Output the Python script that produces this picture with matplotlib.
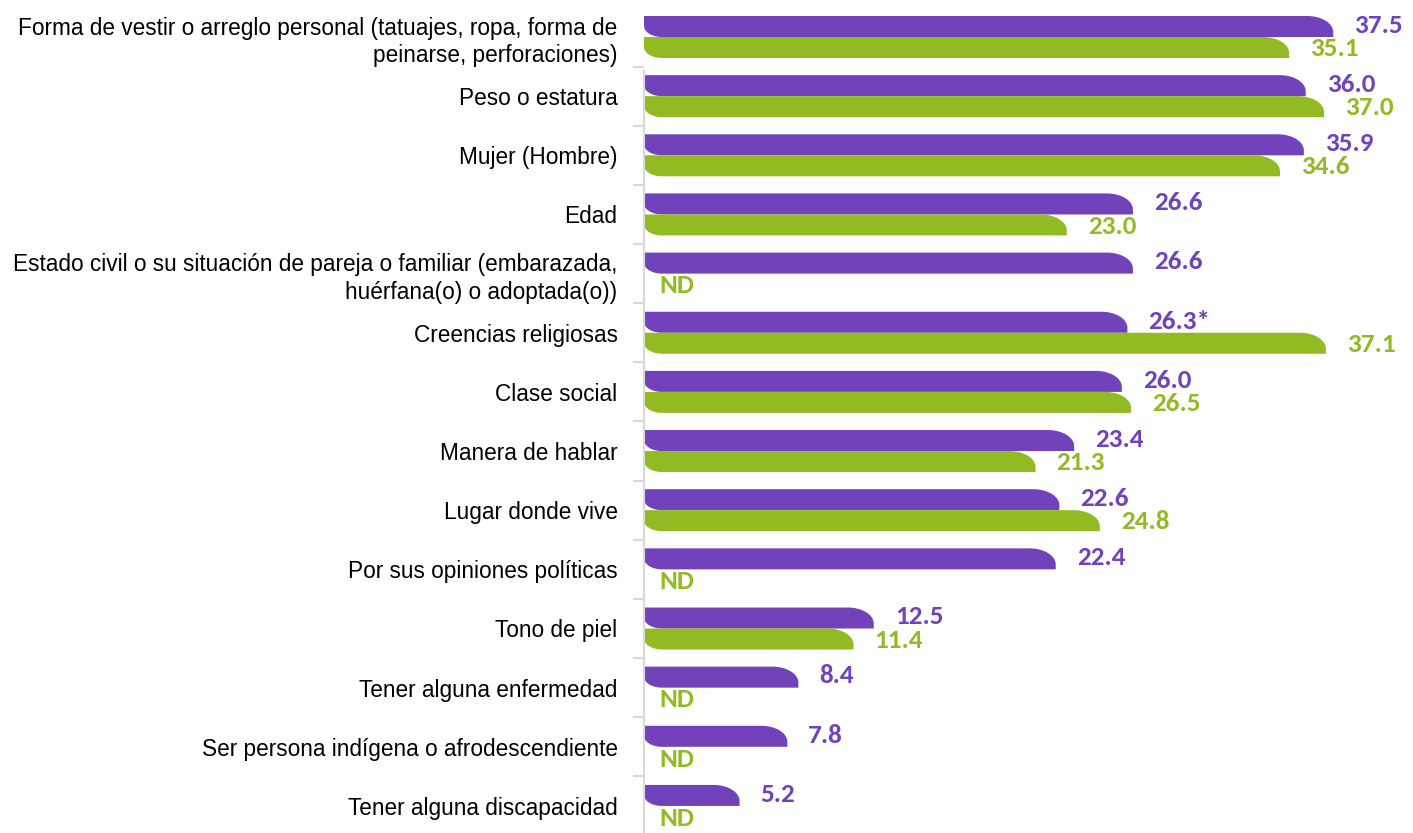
import matplotlib
matplotlib.use("Agg")
import matplotlib.pyplot as plt
from matplotlib import font_manager
from matplotlib.path import Path
from matplotlib.patches import PathPatch
import numpy as np

categories = [
    "Forma de vestir o arreglo personal (tatuajes, ropa, forma de\npeinarse, perforaciones)",
    "Peso o estatura",
    "Mujer (Hombre)",
    "Edad",
    "Estado civil o su situación de pareja o familiar (embarazada,\nhuérfana(o) o adoptada(o))",
    "Creencias religiosas",
    "Clase social",
    "Manera de hablar",
    "Lugar donde vive",
    "Por sus opiniones políticas",
    "Tono de piel",
    "Tener alguna enfermedad",
    "Ser persona indígena o afrodescendiente",
    "Tener alguna discapacidad",
]
series_a = [37.5, 36.0, 35.9, 26.6, 26.6, 26.3, 26.0, 23.4, 22.6, 22.4, 12.5, 8.4, 7.8, 5.2]
series_b = [35.1, 37.0, 34.6, 23.0, None, 37.1, 26.5, 21.3, 24.8, None, 11.4, None, None, None]
labels_a = ["37.5", "36.0", "35.9", "26.6", "26.6", "26.3*", "26.0", "23.4", "22.6",
            "22.4", "12.5", "8.4", "7.8", "5.2"]

PURPLE = "#7142B9"
GREEN = "#92BA22"

names = {f.name for f in font_manager.fontManager.ttflist}
label_font = next((f for f in ["Liberation Sans Narrow", "Arial Narrow", "Liberation Sans"] if f in names), "DejaVu Sans")
value_font = next((f for f in ["Carlito", "Lato", "Open Sans"] if f in names), "DejaVu Sans")

W, H, DPI = 1413, 833, 100
fig = plt.figure(figsize=(W / DPI, H / DPI), dpi=DPI)
ax = fig.add_axes([644 / W, 0, 1 - 644 / W, 1])

px_per_unit_x = 18.38
row_px = 59.15
n = len(categories)
ax.set_xlim(0, (W - 644) / px_per_unit_x)
ax.set_ylim((H - 37) / row_px, -37 / row_px)

pos = np.arange(n)
bar_h = 21 / row_px
off = bar_h / 2

vals_b = [v if v is not None else 0 for v in series_b]
bars_a = ax.barh(pos - off, series_a, height=bar_h, color=PURPLE)
bars_b = ax.barh(pos + off, vals_b, height=bar_h, color=GREEN)


def rounded_diagonal(rect, color):
    """Replace a rectangle with one whose top-right and bottom-left corners are rounded."""
    x0, w = rect.get_x(), rect.get_width()
    y0, h = rect.get_y(), rect.get_height()
    rect.set_visible(False)
    if w <= 0:
        return
    x1 = x0 + w
    rx1 = min(26 / px_per_unit_x, w / 2)
    ry1 = min(16 / row_px, h * 0.8)
    rx2 = min(18 / px_per_unit_x, w / 2)
    ry2 = min(11 / row_px, h * 0.6)
    k = 0.5523
    # y axis inverted: y0 is the visual top edge, y0+h the visual bottom edge
    top, bot = y0, y0 + h
    verts = [
        (x0, top),
        (x1 - rx1, top),
        (x1 - rx1 + k * rx1, top), (x1, top + ry1 - k * ry1), (x1, top + ry1),
        (x1, bot),
        (x0 + rx2, bot),
        (x0 + rx2 - k * rx2, bot), (x0, bot - ry2 + k * ry2), (x0, bot - ry2),
        (x0, top),
        (x0, top),
    ]
    codes = [Path.MOVETO, Path.LINETO,
             Path.CURVE4, Path.CURVE4, Path.CURVE4,
             Path.LINETO, Path.LINETO,
             Path.CURVE4, Path.CURVE4, Path.CURVE4,
             Path.LINETO, Path.CLOSEPOLY]
    ax.add_patch(PathPatch(Path(verts, codes), facecolor=color, edgecolor="none"))


for r in bars_a:
    rounded_diagonal(r, PURPLE)
for r in bars_b:
    rounded_diagonal(r, GREEN)

lab_dx = 21 / px_per_unit_x
nd_dx = 15 / px_per_unit_x
vfs = 19.5
for i in range(n):
    ax.text(series_a[i] + lab_dx, i - off - 0.02, labels_a[i], color=PURPLE, fontsize=vfs,
            fontweight="bold", family=value_font, ha="left", va="center")
    if series_b[i] is None:
        ax.text(nd_dx, i + off + 0.03, "ND", color=GREEN, fontsize=vfs,
                fontweight="bold", family=value_font, ha="left", va="center")
    else:
        ax.text(series_b[i] + lab_dx, i + off + 0.02, f"{series_b[i]:.1f}", color=GREEN, fontsize=vfs,
                fontweight="bold", family=value_font, ha="left", va="center")

# category separators on the left axis, labels at row centres
ax.set_yticks(np.arange(1, n) - 0.5)
ax.set_yticklabels([])
ax.tick_params(axis="y", which="major", length=8, width=1.5, color="#d9d9d9", direction="out")
ax.set_yticks(pos, minor=True)
ax.set_yticklabels(categories, minor=True, fontsize=16.3, family=label_font,
                   ha="right", linespacing=1.25)
ax.tick_params(axis="y", which="minor", length=0, pad=19)
ax.set_xticks([])
for s in ["top", "right", "bottom"]:
    ax.spines[s].set_visible(False)
ax.spines["left"].set_color("#d9d9d9")
ax.spines["left"].set_linewidth(1.5)
ax.spines["left"].set_bounds(0.58, (H - 37) / row_px)

fig.savefig("out.png", dpi=DPI)
